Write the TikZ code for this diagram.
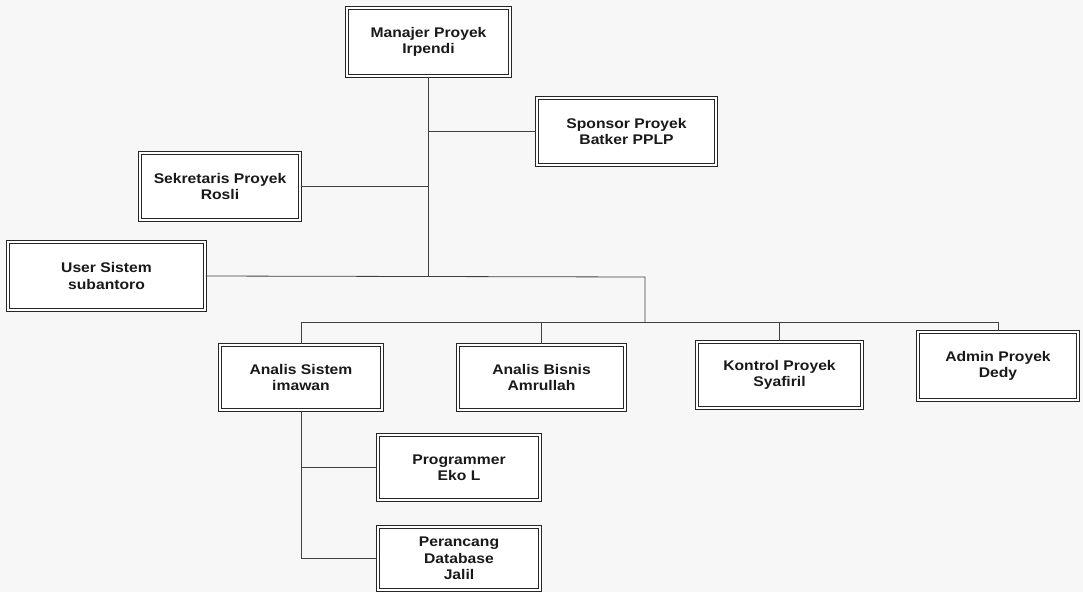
\documentclass[tikz,border=0pt]{standalone}
\usepackage{fontspec}
\setmainfont{Liberation Sans}
\newfontfamily\boxfont[FakeStretch=1.12]{Liberation Sans}
\begin{document}
\begin{tikzpicture}[x=1pt,y=-1pt,
  unit/.style={draw=black!85, double=white, double distance=1.5pt, line width=1.1pt,
    fill=white, rectangle, align=center, inner sep=2pt,
    font=\boxfont\fontsize{14}{16.5}\selectfont\bfseries, text=black!90},
  link/.style={draw=black!75, line width=0.8pt}]
% page
\path[fill=black!3] (0,0) rectangle (1083,592);
\useasboundingbox (0,0) rectangle (1083,592);

% units
\node[unit, minimum width=163pt, minimum height=68pt] (pm) at (428.5,42) {Manajer Proyek\\Irpendi};
\node[unit, minimum width=179pt, minimum height=67pt] (sp) at (626.5,131.5) {Sponsor Proyek\\Batker PPLP};
\node[unit, minimum width=160pt, minimum height=67pt] (sk) at (220,186.5) {Sekretaris Proyek\\Rosli};
\node[unit, minimum width=197pt, minimum height=68pt] (us) at (106.5,276) {User Sistem\\subantoro};
\node[unit, minimum width=162pt, minimum height=65pt] (as) at (301,377.5) {Analis Sistem\\imawan};
\node[unit, minimum width=167pt, minimum height=65pt] (ab) at (541.5,377.5) {Analis Bisnis\\Amrullah};
\node[unit, minimum width=165pt, minimum height=66pt] (kp) at (779.5,375) {Kontrol Proyek\\Syafiril};
\node[unit, minimum width=160pt, minimum height=68pt] (ad) at (998,366) {Admin Proyek\\Dedy};
\node[unit, minimum width=162pt, minimum height=65pt] (pg) at (459,467.5) {Programmer\\Eko L};
\node[unit, minimum width=162pt, minimum height=63pt] (db) at (459,558.5) {Perancang\\Database\\Jalil};

% junction points
\coordinate (hub) at (428.5,277);
\coordinate (drop) at (645,277);
\coordinate (bus) at (645,322);

% connectors
\draw[link] (pm.south) -- (hub);
\draw[link] (sp.west) -- (sp.west -| pm.south);
\draw[link] (sk.east) -- (sk.east -| pm.south);
\draw[link] (us.east) -- (drop) -- (bus);
\draw[link] (as.north) -- (as.north |- bus) -- (ad.north |- bus) -- (ad.north);
\draw[link] (ab.north) -- (ab.north |- bus);
\draw[link] (kp.north) -- (kp.north |- bus);
\draw[link] (as.south) -- (as.south |- db.west) -- (db.west);
\draw[link] (pg.west) -- (pg.west -| as.south);
\end{tikzpicture}
\end{document}
